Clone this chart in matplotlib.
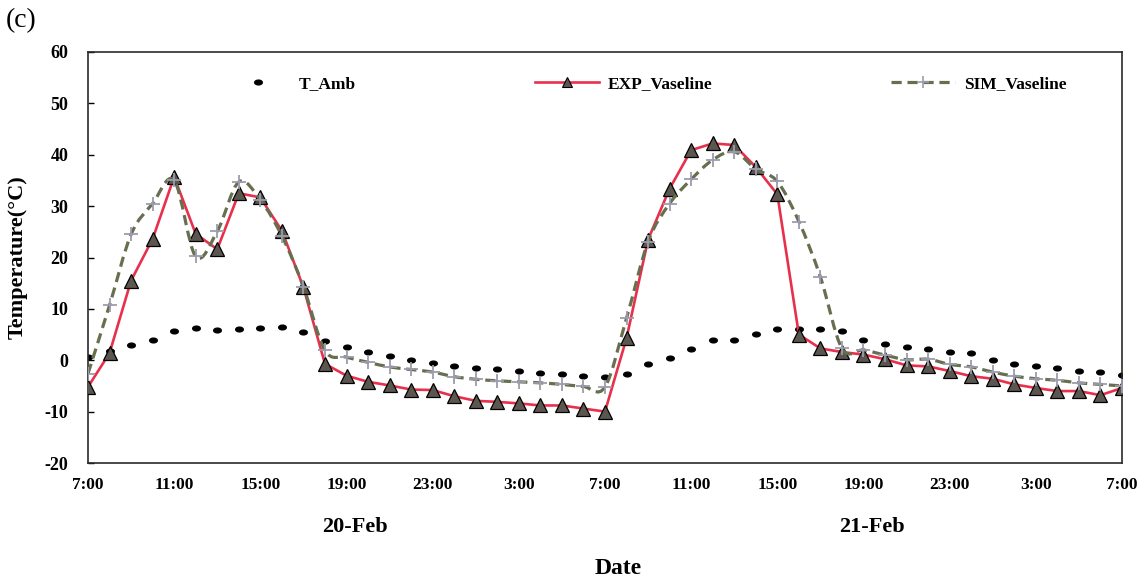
import numpy as np
import matplotlib
matplotlib.use("Agg")
import matplotlib.pyplot as plt
from matplotlib.path import Path
from matplotlib.patches import PathPatch
from matplotlib.lines import Line2D
from matplotlib.transforms import blended_transform_factory

# Hourly readings, 7:00 on 20-Feb to 7:00 on 22-Feb
t_amb = [0.6, 1.8, 2.9, 4.0, 5.7, 6.3, 5.8, 6.1, 6.3, 6.4, 5.5, 3.7, 2.6, 1.7, 0.8,
         0.0, -0.6, -1.2, -1.6, -1.8, -2.1, -2.4, -2.7, -3.1, -3.2, -2.7, -0.8, 0.5,
         2.2, 3.9, 3.9, 5.2, 6.1, 6.1, 6.1, 5.6, 4.0, 3.1, 2.5, 2.2, 1.6, 1.4, 0.1,
         -0.8, -1.2, -1.6, -2.1, -2.3, -2.8]
exp_vaseline = [-5.2, 1.4, 15.5, 23.6, 35.7, 24.6, 21.6, 32.5, 31.7, 25.2, 14.2, -0.7,
                -3.0, -4.2, -4.9, -5.7, -5.8, -7.0, -7.9, -8.1, -8.4, -8.8, -8.8, -9.4,
                -10.0, 4.3, 23.5, 33.4, 40.9, 42.2, 41.9, 37.6, 32.3, 5.0, 2.3, 1.6, 1.1,
                0.2, -1.0, -1.2, -2.1, -3.1, -3.6, -4.7, -5.4, -6.0, -6.0, -6.8, -5.4]
sim_vaseline = [-2.6, 10.7, 24.5, 30.5, 35.0, 20.2, 25.1, 34.7, 31.2, 24.2, 14.3, 1.9,
                0.6, -0.4, -1.3, -1.8, -2.3, -3.2, -3.7, -4.0, -4.2, -4.4, -4.7, -5.1,
                -5.2, 8.2, 23.1, 30.5, 35.2, 39.0, 40.6, 37.2, 34.8, 27.0, 16.2, 2.3, 2.0,
                1.0, 0.1, 0.2, -0.8, -1.3, -2.3, -3.1, -3.6, -3.9, -4.4, -4.7, -5.0]

tick_labels = ["7:00", "11:00", "15:00", "19:00", "23:00", "3:00", "7:00",
               "11:00", "15:00", "19:00", "23:00", "3:00", "7:00"]
days = ["20-Feb", "21-Feb"]

plt.rcParams["font.family"] = ["Liberation Serif", "DejaVu Serif"]
plt.rcParams["font.weight"] = "bold"
plt.rcParams["axes.unicode_minus"] = False

x = np.arange(len(t_amb))

fig = plt.figure(figsize=(11.44, 5.81), dpi=100)
ax = fig.add_axes([88 / 1144, 1 - 463 / 581, 1034 / 1144, 411 / 581])

# ambient temperature as flat dots
theta = np.linspace(0, 2 * np.pi, 30)
dot = np.column_stack([np.cos(theta), 0.62 * np.sin(theta)])
ax.plot(x, t_amb, linestyle="none", marker=dot, markersize=5.5, color="black",
        zorder=2)

# experimental series
ax.plot(x, exp_vaseline, color="#E8304C", linewidth=1.9, marker="^",
        markersize=9.5, markerfacecolor="#5C5650", markeredgecolor="black",
        markeredgewidth=0.9, zorder=3)

# simulated series, smoothed with bezier segments
pts = np.column_stack([x, sim_vaseline]).astype(float)
verts = [tuple(pts[0])]
codes = [Path.MOVETO]
n = len(pts)
for i in range(n - 1):
    p0 = pts[max(i - 1, 0)]
    p1 = pts[i]
    p2 = pts[i + 1]
    p3 = pts[min(i + 2, n - 1)]
    c1 = p1 + (p2 - p0) / 6.0
    c2 = p2 - (p3 - p1) / 6.0
    verts += [tuple(c1), tuple(c2), tuple(p2)]
    codes += [Path.CURVE4] * 3
sim_color = "#66704F"
ax.add_patch(PathPatch(Path(verts, codes), fill=False, edgecolor=sim_color,
                       linewidth=2.3, linestyle=(0, (3.2, 1.8)), zorder=4))
ax.plot(x, sim_vaseline, linestyle="none", marker="+", markersize=10,
        markeredgewidth=1.3, color="#9C9CAE", zorder=5)

ax.set_xlim(0, 48)
ax.set_ylim(-20, 60)
ax.set_yticks(np.arange(-20, 61, 10))
ax.set_xticks(np.arange(0, 49, 4))
ax.set_xticklabels(tick_labels)
ax.tick_params(axis="x", length=0, pad=10, labelsize=12.5)
ax.tick_params(axis="y", direction="in", length=4, width=1, pad=14, labelsize=13)
for s in ax.spines.values():
    s.set_linewidth(1.2)
    s.set_color("#2a2a2a")

ax.set_ylabel("Temperature(\u00b0C)", fontsize=16, fontweight="bold", labelpad=12)

# day labels under the hour ticks
trans = blended_transform_factory(ax.transData, fig.transFigure)
ax.text(12.4, 1 - 527 / 581, days[0], transform=trans, ha="center", va="center",
        fontsize=16, fontweight="bold")
ax.text(36.4, 1 - 527 / 581, days[1], transform=trans, ha="center", va="center",
        fontsize=16, fontweight="bold")
fig.text(618 / 1144, 1 - 568 / 581, "Date", ha="center", va="center",
         fontsize=17, fontweight="bold")
fig.text(6 / 1144, 1 - 21 / 581, "(c)", ha="left", va="center", fontsize=20,
         fontweight="normal")

handles = [
    Line2D([], [], linestyle="none", marker=dot, markersize=5.5, color="black"),
    Line2D([], [], color="#E8304C", linewidth=1.9, marker="^", markersize=7,
           markerfacecolor="#5C5650", markeredgecolor="black", markeredgewidth=0.8),
    Line2D([], [], color=sim_color, linewidth=2.3, linestyle=(0, (3.2, 1.8)),
           marker="+", markersize=9, markeredgewidth=1.2, markeredgecolor="#9C9CAE"),
]
ax.legend(handles, ["T_Amb", "EXP_Vaseline", "SIM_Vaseline"], ncol=3,
          loc="center", bbox_to_anchor=(0.54, 0.922), frameon=False,
          fontsize=12.5, handlelength=3.7, handletextpad=0.5, columnspacing=10.3)

fig.savefig("out.png", dpi=100, facecolor="white")
